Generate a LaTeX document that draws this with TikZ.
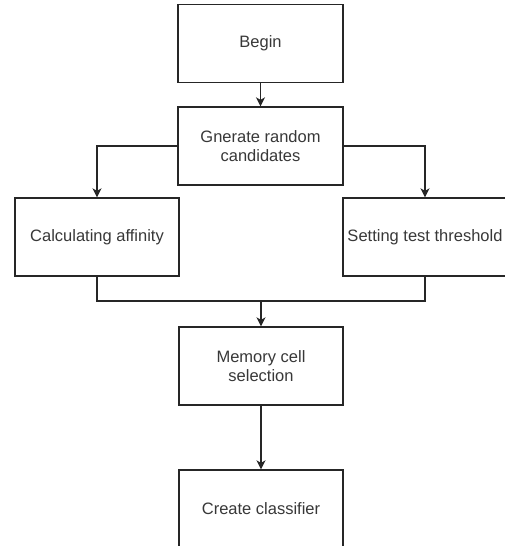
\documentclass[tikz,border=0pt]{standalone}
\usepackage{fontspec}
\setmainfont{Liberation Sans}
\usetikzlibrary{arrows.meta}
\begin{document}
\begin{tikzpicture}[x=1pt,y=-1pt,
  box/.style={draw=black!85, line width=1.3pt, minimum width=165pt, minimum height=78pt, inner sep=0pt,
    align=center, font=\fontsize{16.5}{19}\selectfont, text=black!78},
  conn/.style={draw=black!85, line width=1.3pt},
  arr/.style={conn, -{Stealth[length=9pt,width=9pt,inset=2.5pt]}}]
\useasboundingbox (0,0) rectangle (505,546);
\clip (0,0) rectangle (505,546);
\fill[white] (0,0) rectangle (505,546);
\node[box] (begin) at (260.5,43.5) {Begin};
\node[box] (gen) at (260.5,146) {Gnerate random\\candidates};
\node[box, minimum width=164pt] (calc) at (97,237) {Calculating affinity};
\node[box, minimum width=164pt] (set) at (425,237) {Setting test threshold};
\node[box, minimum width=164pt] (mem) at (261,366) {Memory cell\\selection};
\node[box, minimum width=164pt] (create) at (261,509) {Create classifier};
\coordinate (j) at (261,301);
\draw[arr] (begin) -- (gen);
\draw[arr] (gen.west) -| (calc.north);
\draw[arr] (gen.east) -| (set.north);
\draw[conn] (calc.south) |- (j);
\draw[conn] (set.south) |- (j);
\draw[arr] (j) -- (mem.north);
\draw[arr] (mem) -- (create);
\end{tikzpicture}
\end{document}
